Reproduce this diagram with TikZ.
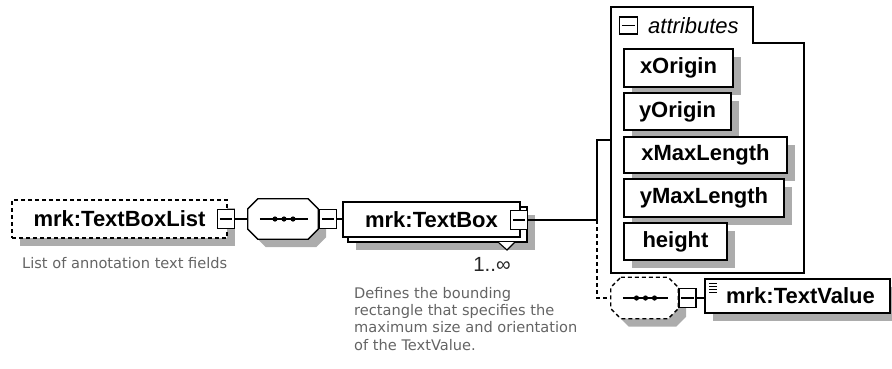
\documentclass[tikz,border=0pt]{standalone}
\usepackage{fontspec}
\setmainfont{Liberation Sans}
\newfontfamily\descfont{DejaVu Sans}
\usetikzlibrary{shadows,calc}
\definecolor{shadowgray}{RGB}{172,172,172}
\definecolor{desc}{RGB}{100,100,100}
\begin{document}
\begin{tikzpicture}[x=1pt,y=-1pt,
  lbl/.style={font=\fontsize{22}{24}\selectfont\bfseries},
  elbox/.style={draw, line width=1.3pt, fill=white, inner sep=0pt, lbl},
  shd/.style={drop shadow={shadow xshift=8pt, shadow yshift=-8pt, fill=shadowgray, opacity=1}},
  minusbox/.style={draw, line width=1.2pt, fill=white, minimum width=17pt, minimum height=19pt, inner sep=0pt},
  seqbox/.style={draw=none, inner sep=0pt, minimum width=70pt, minimum height=40pt},
  optline/.style={dash pattern=on 4pt off 3pt},
  conn/.style={line width=1.2pt},
  note/.style={font=\descfont\fontsize{14.6}{17.3}\selectfont, text=desc, align=left, inner sep=0pt},
]
\useasboundingbox (0,0) rectangle (892,368);

% minus sign inside a collapse box
\newcommand{\minussign}[1]{\draw[line width=1.1pt] ([xshift=3pt]#1.west) -- ([xshift=-3pt]#1.east);}
% octagonal outline of a compositor node, with its shadow; #2 = extra line options
\newcommand{\octoutline}[2]{%
  \path let \p1=(#1.north west), \p2=(#1.south east) in
    [fill=shadowgray] (\x1+18pt,\y1-8pt) -- (\x2-2pt,\y1-8pt) -- (\x2+8pt,\y1-18pt) -- (\x2+8pt,\y2+2pt)
      -- (\x2-2pt,\y2-8pt) -- (\x1+18pt,\y2-8pt) -- (\x1+8pt,\y2+2pt) -- (\x1+8pt,\y1-18pt) -- cycle;
  \path let \p1=(#1.north west), \p2=(#1.south east) in
    [draw, fill=white, line width=1.3pt, #2] (\x1+10pt,\y1) -- (\x2-10pt,\y1) -- (\x2,\y1-10pt) -- (\x2,\y2+10pt)
      -- (\x2-10pt,\y2) -- (\x1+10pt,\y2) -- (\x1,\y2+10pt) -- (\x1,\y1-10pt) -- cycle;}
% sequence compositor glyph
\newcommand{\seqglyph}[1]{%
  \draw[line width=1.1pt] ([xshift=12pt]#1.west) -- ([xshift=-10pt]#1.east);
  \foreach \dx in {-9,0,9} \fill ([xshift=\dx pt+1pt]#1.center) circle (2.6pt);}

% ---- root element
\node[elbox, optline, shd, minimum width=215pt, minimum height=38pt] (tbl) at (119.5,219) {mrk:TextBoxList};
\node[minusbox] (m1) at (226,219) {};
\minussign{m1}
\node[note, anchor=base west] (tbldesc) at (22,268) {List of annotation text fields};

% ---- sequence
\node[seqbox] (s1) at (283,219) {};
\octoutline{s1}{}
\seqglyph{s1}
\node[minusbox] (m2) at (328,219) {};
\minussign{m2}
\draw[conn] (m1.east) -- (s1.west);
\draw[conn] (s1.east) -- (m2.west);

% ---- repeated element
\node[draw, line width=1.3pt, fill=white, shd, minimum width=179pt, minimum height=35pt] (tbback) at (437.5,224.5) {};
\draw[line width=1.1pt, fill=white] (498,242) -- (507,250) -- (515,242);
\node[elbox, minimum width=177pt, minimum height=35pt] (tb) at (431.5,219.5) {mrk:TextBox};
\node[minusbox] (m3) at (519,220) {};
\minussign{m3}
\draw[conn] (m2.east) -- (m2.east -| tb.west);
\node[font=\fontsize{20.5}{22}\selectfont, text=black!85, inner sep=0pt] (card) at (492,264) {1..∞};
\node[note, anchor=north west] (tbdesc) at (354,287)
  {Defines the bounding\\rectangle that specifies the\\maximum size and orientation\\of the TextValue.};

% ---- branch to attributes and child
\coordinate (j) at (597,220);
\coordinate (jtop) at (597,140);
\coordinate (attrin) at (611,140);
\coordinate (jbot) at (597,298);
\draw[conn] (m3.east) -- (j);
\draw[conn] (j) -- (jtop) -- (attrin);

% ---- attributes group
\draw[line width=1.3pt, fill=white] (611,7) -- (753,7) -- (753,43) -- (804,43) -- (804,273) -- (611,273) -- cycle;
\node[draw, line width=1.2pt, fill=white, minimum width=18pt, minimum height=17pt, inner sep=0pt] (ma) at (628.5,25.5) {};
\minussign{ma}
\node[font=\fontsize{22}{24}\selectfont\itshape, anchor=west, inner sep=0pt] (attrlbl) at (648,26) {attributes};

\node[elbox, shd, minimum width=109pt, minimum height=38pt] (xo) at (678.5,68) {xOrigin};
\node[elbox, shd, minimum width=107pt, minimum height=37pt] (yo) at (677.5,111.5) {yOrigin};
\node[elbox, shd, minimum width=163pt, minimum height=36pt] (xm) at (705.5,155) {xMaxLength};
\node[elbox, shd, minimum width=160pt, minimum height=38pt] (ym) at (704,198) {yMaxLength};
\node[elbox, shd, minimum width=103pt, minimum height=37pt] (ht) at (675.5,241.5) {height};

% ---- optional sequence with the text child
\node[seqbox, minimum width=67pt, minimum height=41pt] (s2) at (644.5,298) {};
\octoutline{s2}{optline}
\seqglyph{s2}
\draw[conn, optline] (j) -- (jbot) -- (s2.west);
\node[minusbox] (m4) at (687.5,298) {};
\minussign{m4}
\draw[conn] (s2.east) -- (m4.west);
\node[elbox, shd, minimum width=185pt, minimum height=34pt] (tv) at (797.5,296) {\hspace*{6pt}mrk:TextValue};
\draw[conn] (m4.east) -- (m4.east -| tv.west);
\foreach \yy in {283,286,289,292}
  \draw[line width=0.8pt] (709,\yy) -- (717,\yy);
\end{tikzpicture}
\end{document}
